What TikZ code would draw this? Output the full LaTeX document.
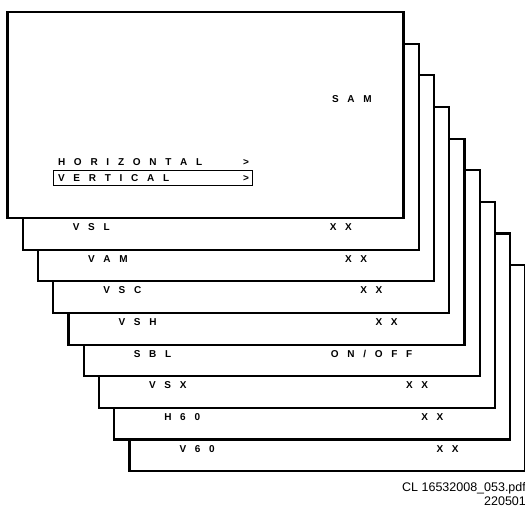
\documentclass[tikz,border=0pt]{standalone}
\usepackage{fontspec}
\setmainfont{Liberation Sans}
\newfontfamily\osdfont[WordSpace=3.15]{Liberation Sans}
\usetikzlibrary{positioning}
\usetikzlibrary{calc}

\begin{document}
\begin{tikzpicture}[
            x = 1pt, y = 1pt, % one unit per pixel
            node distance = 10pt,
            line width = 2.2pt % frame of the pages
        ]

        \tikzstyle{card}=[
            draw,
            fill = white,
            rectangle,
            minimum width = 396pt,
            minimum height = 206pt,
            inner sep = 0pt,
            outer sep = 0pt
        ]
        \tikzstyle{osd}=[
            font = \osdfont\bfseries\fontsize{10}{12}\selectfont,
            inner sep = 0pt,
            outer sep = 0pt
        ]
        \tikzstyle{ref}=[
            font = \fontsize{12.5}{14}\selectfont,
            inner sep = 0pt
        ]

        \useasboundingbox (0,0) rectangle (525,-506);

	% pages, back to front
        \node[card, anchor=north west] (c9) at (129.5,-265.2) {};
        \node[card] (c8) [above left=31.65pt and 15.25pt of c9.north west, anchor=north west] {};
        \node[card] (c7) [above left=31.65pt and 15.25pt of c8.north west, anchor=north west] {};
        \node[card] (c6) [above left=31.65pt and 15.25pt of c7.north west, anchor=north west] {};
        \node[card] (c5) [above left=31.65pt and 15.25pt of c6.north west, anchor=north west] {};
        \node[card] (c4) [above left=31.65pt and 15.25pt of c5.north west, anchor=north west] {};
        \node[card] (c3) [above left=31.65pt and 15.25pt of c4.north west, anchor=north west] {};
        \node[card] (c2) [above left=31.65pt and 15.25pt of c3.north west, anchor=north west] {};
        \node[card] (c1) [above left=31.65pt and 15.25pt of c2.north west, anchor=north west] {};

	% items
        \node[osd] (vsl) [above right=19pt and 50pt of c2.south west] {V S L};
        \node[osd] (vslv) [above right=19pt and 307pt of c2.south west] {X X};
        \node[osd] (vam) [above right=19pt and 50pt of c3.south west] {V A M};
        \node[osd] (vamv) [above right=19pt and 307pt of c3.south west] {X X};
        \node[osd] (vsc) [above right=19pt and 50pt of c4.south west] {V S C};
        \node[osd] (vscv) [above right=19pt and 307pt of c4.south west] {X X};
        \node[osd] (vsh) [above right=19pt and 50pt of c5.south west] {V S H};
        \node[osd] (vshv) [above right=19pt and 307pt of c5.south west] {X X};
        \node[osd] (sbl) [above right=19pt and 50pt of c6.south west] {S B L};
        \node[osd] (sblv) [above right=19pt and 247pt of c6.south west] {O N / O F F};
        \node[osd] (vsx) [above right=19pt and 50pt of c7.south west] {V S X};
        \node[osd] (vsxv) [above right=19pt and 307pt of c7.south west] {X X};
        \node[osd] (h60) [above right=19pt and 50pt of c8.south west] {H 6 0};
        \node[osd] (h60v) [above right=19pt and 307pt of c8.south west] {X X};
        \node[osd] (v60) [above right=19pt and 50pt of c9.south west] {V 6 0};
        \node[osd] (v60v) [above right=19pt and 307pt of c9.south west] {X X};

	% front page
        \node[osd] (sam) [below right=83.8pt and 324.5pt of c1.north west] {S A M};
        \node[osd] (hor) [below right=146.8pt and 50.5pt of c1.north west] {\makebox[191pt][l]{H O R I Z O N T A L\hfill >}};
        \node[osd] (ver) [below=8.8pt of hor.south west, anchor=north west] {\makebox[191pt][l]{V E R T I C A L\hfill >}};
        \draw[line width=0.9pt] ($(ver.south west)+(-5,-4)$) rectangle ($(ver.north east)+(3,4)$);

	% file reference
        \node[ref, anchor=base east] (file) at (527,-491) {CL 16532008\_053.pdf};
        \node[ref, anchor=base east] (date) at (527,-505) {220501};

  \end{tikzpicture}
\end{document}
